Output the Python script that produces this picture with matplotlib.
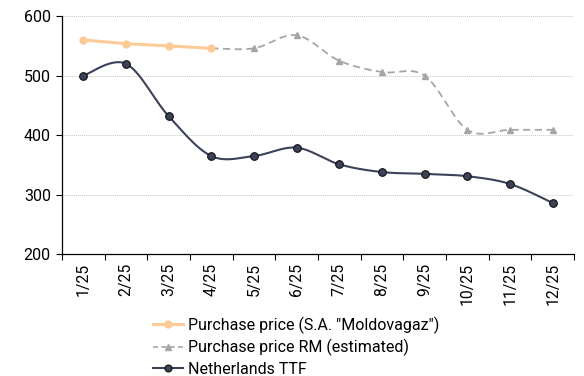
import numpy as np
import matplotlib
matplotlib.use("Agg")
import matplotlib.pyplot as plt
from matplotlib.lines import Line2D

plt.rcParams['font.family'] = ['Roboto', 'DejaVu Sans']

months = ["1/25", "2/25", "3/25", "4/25", "5/25", "6/25",
          "7/25", "8/25", "9/25", "10/25", "11/25", "12/25"]
moldovagaz = [560, 554, 550, 546]
rm_estimated = [546, 546, 568, 525, 506, 500, 409, 409, 409]
ttf = [500, 520, 432, 365, 365, 379, 351, 338, 335, 331, 318, 286]

MOLD_C = "#FDCB98"
RM_C = "#A6A6A6"
TTF_C = "#3B4259"


def smooth(xs, ys, n=30):
    """Cubic Bezier curve through the points (Catmull-Rom style tangents)."""
    xs = np.asarray(xs, float)
    ys = np.asarray(ys, float)
    P = np.column_stack([xs, ys])
    out = [P[0]]
    t = np.linspace(0, 1, n)[1:, None]
    for i in range(len(P) - 1):
        p0 = P[i - 1] if i > 0 else P[i]
        p1, p2 = P[i], P[i + 1]
        p3 = P[i + 2] if i + 2 < len(P) else P[i + 1]
        b1 = p1 + (p2 - p0) / 6
        b2 = p2 - (p3 - p1) / 6
        seg = ((1 - t) ** 3) * p1 + 3 * ((1 - t) ** 2) * t * b1 \
            + 3 * (1 - t) * t ** 2 * b2 + t ** 3 * p2
        out.extend(seg)
    out = np.array(out)
    return out[:, 0], out[:, 1]


fig = plt.figure(figsize=(5.84, 3.76), dpi=100)
ax = fig.add_axes([0.106, 0.324, 0.877, 0.633])

x_all = np.arange(len(months))

# Purchase price (Moldovagaz)
xm = x_all[:len(moldovagaz)]
sx, sy = smooth(xm, moldovagaz)
ax.plot(sx, sy, color=MOLD_C, lw=2.2, zorder=3)
ax.plot(xm, moldovagaz, "o", color=MOLD_C, ms=5, zorder=4)

# Estimated purchase price RM
xr = x_all[3:3 + len(rm_estimated)]
sx, sy = smooth(xr, rm_estimated)
ax.plot(sx, sy, color=RM_C, lw=1.3, ls=(0, (4, 2.5)), zorder=2)
ax.plot(xr[1:], rm_estimated[1:], "^", color=RM_C, ms=5, zorder=3)

# Netherlands TTF
sx, sy = smooth(x_all, ttf)
ax.plot(sx, sy, color=TTF_C, lw=1.5, zorder=3)
ax.plot(x_all, ttf, "o", color=TTF_C, mec="#111111", mew=0.8, ms=5.5, zorder=4)

ax.set_xlim(-0.5, len(months) - 0.5)
ax.set_ylim(200, 600)
ax.set_yticks([200, 300, 400, 500, 600])
ax.set_xticks(np.arange(-0.5, len(months), 1.0))
ax.set_xticklabels([])
ax.set_xticks(x_all, minor=True)
ax.set_xticklabels(months, minor=True, rotation=90)
ax.tick_params(axis="x", which="minor", length=0, pad=6, labelsize=11.3)
ax.tick_params(axis="x", which="major", length=4, width=0.8, direction="out")
ax.tick_params(axis="y", length=4, width=0.8, labelsize=11.5, pad=4)

ax.grid(axis="y", color="#C8C8C8", lw=0.7, ls=(0, (1, 1)))
ax.set_axisbelow(True)
for s in ("top", "right"):
    ax.spines[s].set_visible(False)
for s in ("left", "bottom"):
    ax.spines[s].set_color("#000000")
    ax.spines[s].set_linewidth(0.9)

handles = [
    Line2D([], [], color=MOLD_C, lw=2.2, marker="o", ms=5),
    Line2D([], [], color=RM_C, lw=1.2, ls=(0, (3, 2)), marker="^", ms=4),
    Line2D([], [], color=TTF_C, lw=1.5, marker="o", ms=5, mec="#111111", mew=0.8),
]
labels = ['Purchase price (S.A. "Moldovagaz")',
          "Purchase price RM (estimated)",
          "Netherlands TTF"]
fig.legend(handles, labels, loc="upper left", bbox_to_anchor=(0.262, 0.158),
           bbox_transform=fig.transFigure, frameon=False, fontsize=11.5,
           handlelength=1.88, handletextpad=0.31, labelspacing=0.33,
           borderpad=0, borderaxespad=0)

fig.savefig("out.png", dpi=100)
